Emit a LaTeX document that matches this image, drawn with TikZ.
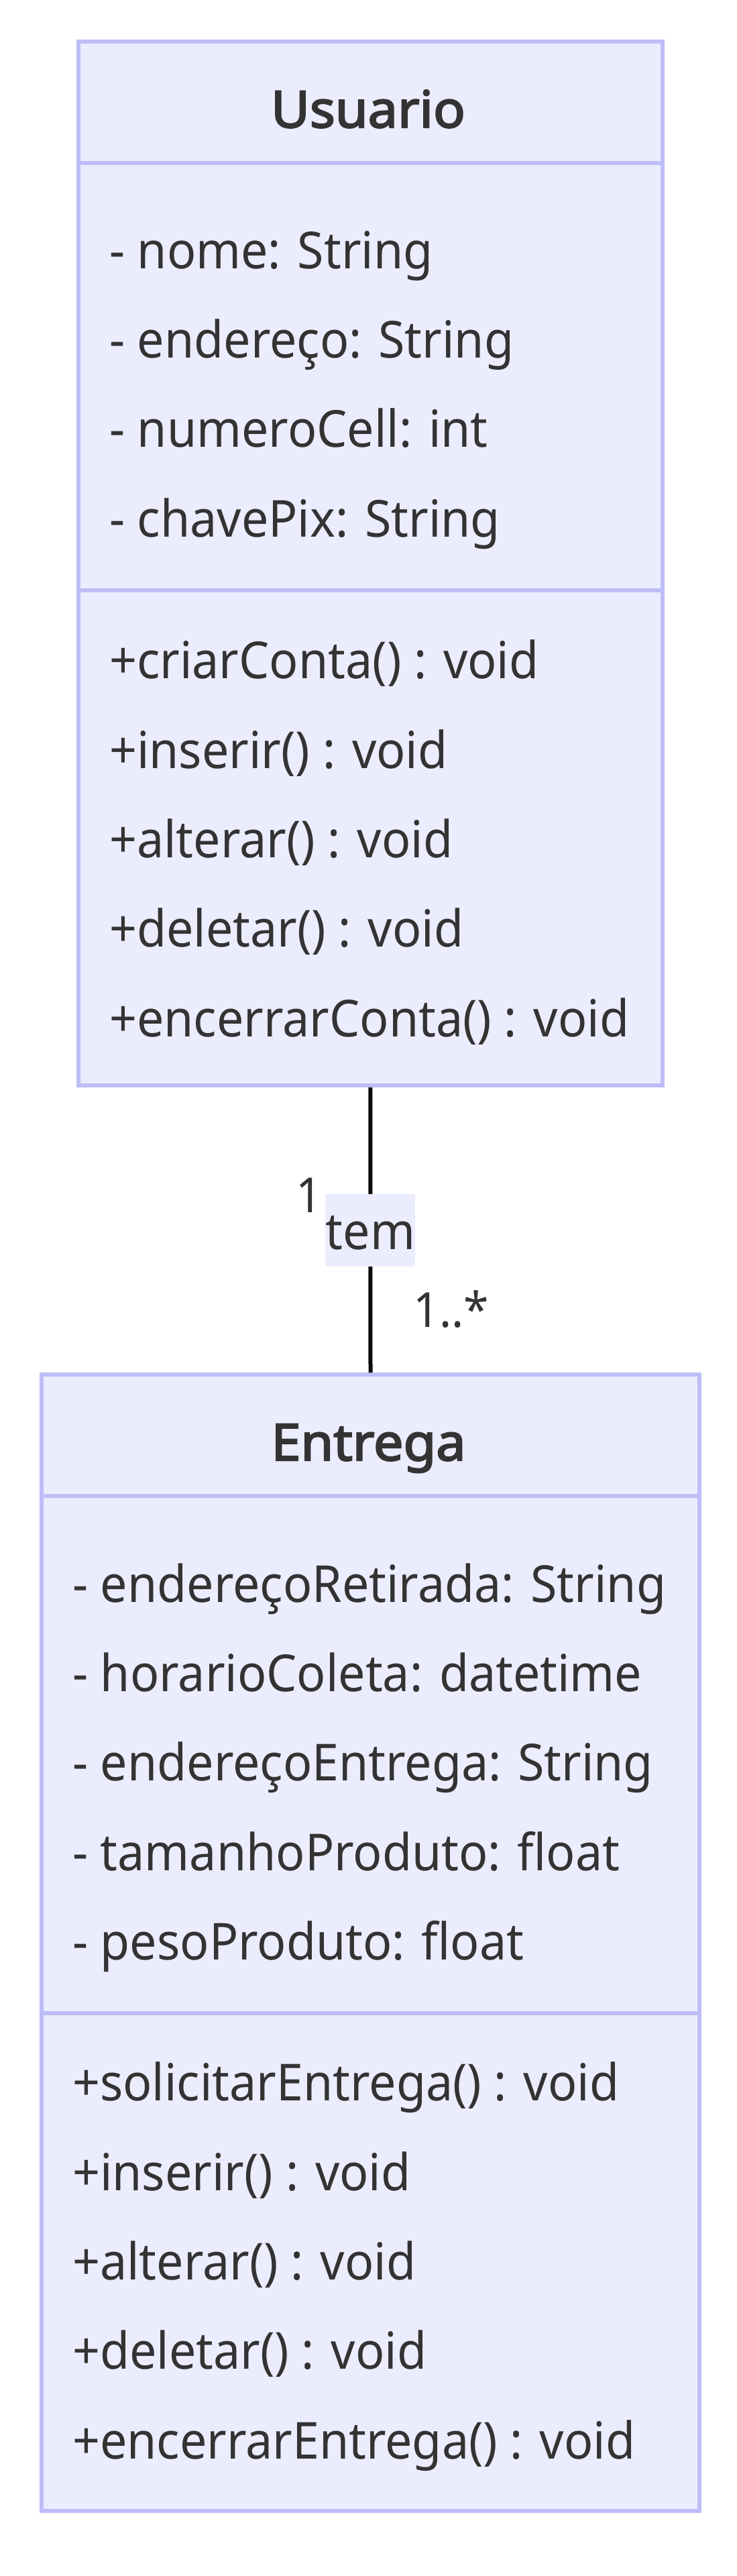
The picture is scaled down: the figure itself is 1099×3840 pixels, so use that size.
\documentclass[tikz,border=0pt]{standalone}
\usepackage{fontspec}
\setmainfont{Noto Sans}[FakeStretch=0.943]
\newfontfamily\titlefont{Noto Sans}[FakeBold=3, FakeStretch=1.04]
\definecolor{clsfill}{HTML}{ECECFF}
\definecolor{clsline}{HTML}{BDBDF9}
\definecolor{txt}{HTML}{333333}
\definecolor{edge}{HTML}{0B0B0B}
\tikzset{
  classbox/.style={draw=clsline, fill=clsfill, line width=6pt, rectangle, inner sep=0pt},
  divider/.style={draw=clsline, line width=6pt},
  member/.style={anchor=base west, inner sep=0pt, text=txt, font=\fontsize{76}{90}\selectfont},
  title/.style={anchor=base, inner sep=0pt, text=txt, font=\titlefont\fontsize{76}{90}\selectfont},
  card/.style={inner sep=0pt, text=txt, font=\fontsize{72}{86}\selectfont},
  rel/.style={draw=edge, line width=6pt},
  rellabel/.style={fill=clsfill, inner sep=0pt, text=txt, minimum width=134pt, text height=83pt, text depth=25pt, font=\fontsize{76}{90}\selectfont}
}
\begin{document}
\begin{tikzpicture}[x=1pt, y=-1pt]
\useasboundingbox (0,0) rectangle (1099,3840);
% Usuario
\node[classbox, anchor=north west, minimum width=870.5pt, minimum height=1556pt] (usuario) at (114,59) {};
\coordinate (u1l) at (114,243); \coordinate (u1r) at (984.5,243);
\coordinate (u2l) at (114,880); \coordinate (u2r) at (984.5,880);
\draw[divider] (u1l) -- (u1r);
\draw[divider] (u2l) -- (u2r);
\node[title] (utitle) at (549,190) {Usuario};
\node[member] (ua1) at (163,400) {- nome: String};
\node[member] (ua2) at (163,533.3) {- endereço: String};
\node[member] (ua3) at (163,666.6) {- numeroCell: int};
\node[member] (ua4) at (163,800) {- chavePix: String};
\node[member] (um1) at (163,1011.7) {+criarConta() : void};
\node[member] (um2) at (163,1145) {+inserir() : void};
\node[member] (um3) at (163,1278.3) {+alterar() : void};
\node[member] (um4) at (163,1411.6) {+deletar() : void};
\node[member] (um5) at (163,1545) {+encerrarConta() : void};
% Entrega
\node[classbox, anchor=north west, minimum width=981pt, minimum height=1694pt] (entrega) at (59,2046) {};
\coordinate (e1l) at (59,2230); \coordinate (e1r) at (1040,2230);
\coordinate (e2l) at (59,3001); \coordinate (e2r) at (1040,3001);
\draw[divider] (e1l) -- (e1r);
\draw[divider] (e2l) -- (e2r);
\node[title] (etitle) at (549.5,2177) {Entrega};
\node[member] (ea1) at (108,2388.3) {- endereçoRetirada: String};
\node[member] (ea2) at (108,2521.6) {- horarioColeta: datetime};
\node[member] (ea3) at (108,2654.9) {- endereçoEntrega: String};
\node[member] (ea4) at (108,2788.2) {- tamanhoProduto: float};
\node[member] (ea5) at (108,2921.5) {- pesoProduto: float};
\node[member] (em1) at (108,3131.7) {+solicitarEntrega() : void};
\node[member] (em2) at (108,3265) {+inserir() : void};
\node[member] (em3) at (108,3398.3) {+alterar() : void};
\node[member] (em4) at (108,3531.6) {+deletar() : void};
\node[member] (em5) at (108,3665) {+encerrarEntrega() : void};
% relation
\draw[rel] (usuario.south) -- node[rellabel] (lbl) {tem} (entrega.north);
\node[card, anchor=base east] (c1) at (481,1807) {1};
\node[card, anchor=base west] (c2) at (616,1978) {1..*};
\end{tikzpicture}
\end{document}
